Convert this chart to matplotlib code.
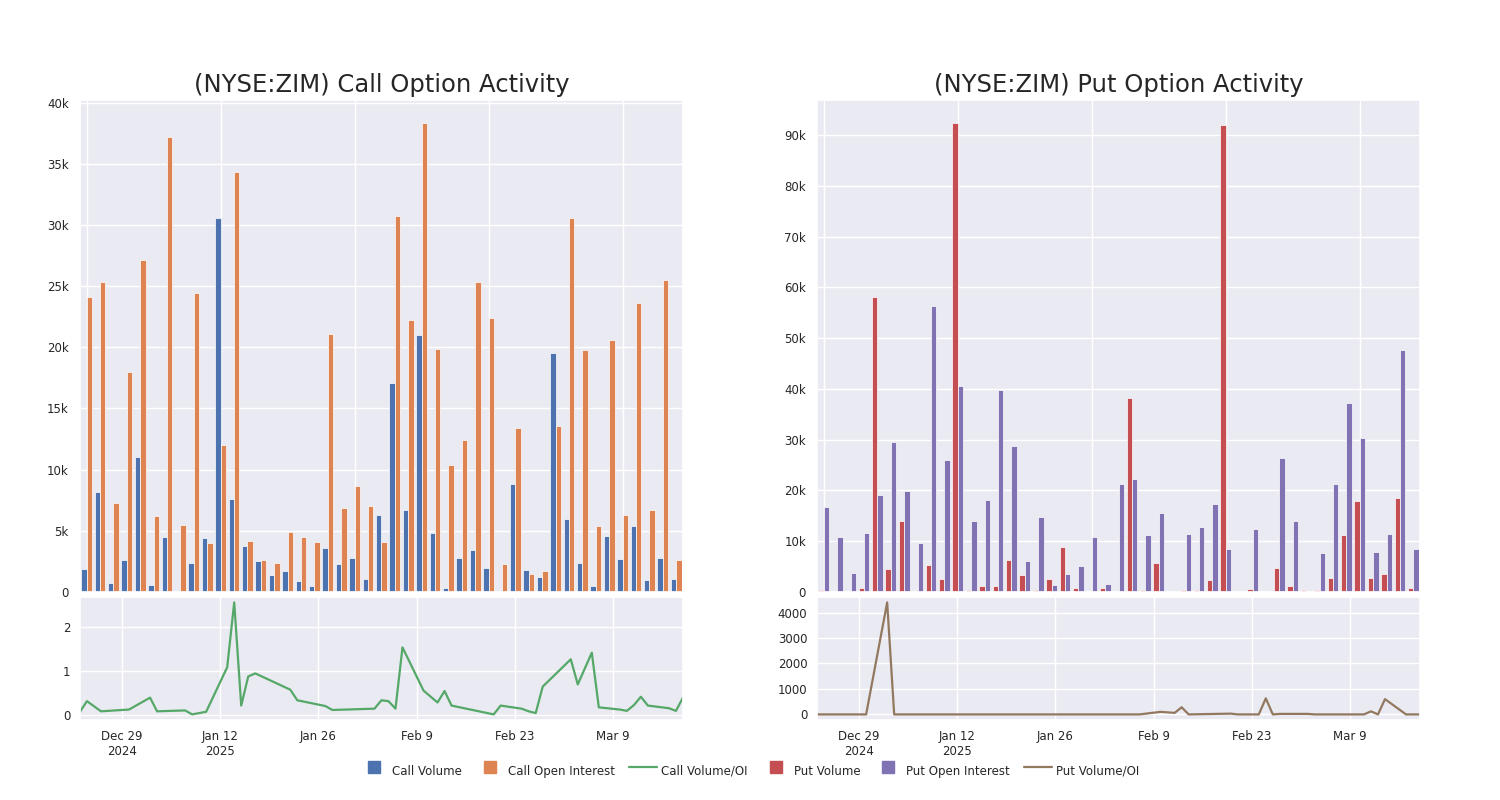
import matplotlib
matplotlib.use("Agg")
import matplotlib.pyplot as plt
from matplotlib.lines import Line2D
from matplotlib.ticker import FuncFormatter
import seaborn as sns
import pandas as pd
import numpy as np

sns.set_theme(style="darkgrid")

dates = pd.to_datetime([
    "2024-12-23", "2024-12-24", "2024-12-26", "2024-12-30", "2025-01-02", "2025-01-03",
    "2025-01-07", "2025-01-08", "2025-01-10", "2025-01-13", "2025-01-14", "2025-01-15",
    "2025-01-16", "2025-01-17", "2025-01-22", "2025-01-23", "2025-01-27", "2025-01-28",
    "2025-02-03", "2025-02-04", "2025-02-05", "2025-02-06", "2025-02-07", "2025-02-10",
    "2025-02-12", "2025-02-13", "2025-02-14", "2025-02-20", "2025-02-21", "2025-02-24",
    "2025-02-25", "2025-02-26", "2025-02-27", "2025-03-03", "2025-03-04", "2025-03-06",
    "2025-03-07", "2025-03-10", "2025-03-11", "2025-03-12", "2025-03-13", "2025-03-14",
    "2025-03-17", "2025-03-18", "2025-03-19",
])

call_vol = [1900, 8200, 700, 2600, 11000, 600, 4500, 100, 2400, 4400, 30600, 7600,
            3800, 2500, 1400, 1700, 900, 500, 3600, 2300, 2800, 1100, 6300, 17100,
            6700, 21000, 4800, 300, 2800, 3400, 2000, 100, 8800, 1800, 1200, 19500,
            6000, 2400, 500, 4600, 2700, 5400, 1000, 2800, 1100]
call_oi = [24100, 25300, 7300, 18000, 27100, 6200, 37200, 5500, 24400, 4000, 12000, 34300,
           4200, 2600, 2400, 4900, 4500, 4100, 21100, 6900, 8700, 7000, 4100, 30700,
           22200, 38300, 19900, 10400, 12400, 25300, 22400, 2300, 13400, 1500, 1700, 13600,
           30600, 19800, 5400, 20600, 6300, 23600, 6700, 25500, 2600]
call_ratio = [0.08, 0.32, 0.09, 0.13, 0.40, 0.09, 0.11, 0.02, 0.08, 1.09, 2.56, 0.22,
              0.88, 0.95, 0.58, 0.34, 0.21, 0.12, 0.15, 0.34, 0.32, 0.15, 1.54, 0.56,
              0.29, 0.55, 0.22, 0.02, 0.22, 0.15, 0.09, 0.05, 0.65, 1.27, 0.70, 1.42,
              0.18, 0.13, 0.10, 0.23, 0.42, 0.22, 0.16, 0.10, 0.40]

put_vol = [400, 100, 100, 800, 58100, 4600, 13900, 0, 5300, 2500, 92300, 300,
           1200, 1100, 6300, 3400, 300, 2600, 8900, 800, 50, 700, 100, 38200,
           400, 5700, 50, 400, 400, 2400, 92000, 50, 500, 50, 4800, 1100,
           300, 300, 2700, 11200, 17900, 2800, 3600, 18600, 700]
put_oi = [16800, 10800, 3800, 11700, 19100, 29600, 19900, 9600, 56400, 26100, 40600, 13900,
          18200, 39700, 28800, 6100, 14800, 1300, 3600, 5100, 10800, 1500, 21300, 22300,
          11200, 15600, 50, 11400, 12900, 17400, 8400, 100, 12500, 0, 26400, 14000,
          200, 7700, 21200, 37300, 30400, 7900, 11400, 47600, 8400]
put_ratio = [0, 0, 0, 0, 4400, 0, 0, 0, 0, 0, 0, 0,
             0, 0, 0, 0, 0, 0, 0, 0, 0, 0, 0, 100,
             60, 280, 0, 30, 0, 0, 630, 0, 20, 20, 0, 0,
             0, 0, 0, 120, 0, 600, 0, 0, 0]

date_ticks = pd.date_range("2024-12-29", periods=6, freq="14D")
tick_labels = ["Dec 29\n2024", "Jan 12\n2025", "Jan 26", "Feb 9", "Feb 23", "Mar 9"]

c_blue, c_orange, c_green = "#4C72B0", "#DD8452", "#55A868"
c_red, c_purple, c_brown = "#C44E52", "#8172B3", "#937860"

fig = plt.figure(figsize=(15, 8), dpi=100)

def kfmt(v, pos):
    return "0" if v == 0 else f"{int(round(v / 1000))}k"

def panel(left, vol, oi, ratio, cv, co, cl, title, ystep, rticks):
    axb = fig.add_axes([left, 0.26, 0.402, 0.615])
    axl = fig.add_axes([left, 0.10, 0.402, 0.154])
    x = np.arange(len(vol))
    axb.bar(x - 0.2, vol, width=0.4, color=cv, edgecolor="white", linewidth=0.5)
    axb.bar(x + 0.2, oi, width=0.4, color=co, edgecolor="white", linewidth=0.5)
    axb.set_xlim(-0.5, len(vol) - 0.5)
    axb.set_ylim(0, max(max(vol), max(oi)) * 1.05)
    axb.set_xticks(np.arange(0, len(vol), 10))
    axb.set_xticklabels([])
    axb.tick_params(axis="x", length=0)
    axb.set_yticks(np.arange(0, axb.get_ylim()[1], ystep))
    axb.yaxis.set_major_formatter(FuncFormatter(kfmt))
    axb.tick_params(axis="y", labelsize=8.5, pad=2)
    axb.set_title(title, fontsize=17.5, pad=6)

    axl.plot(dates, ratio, color=cl, linewidth=1.6)
    axl.set_xlim(dates[0], dates[-1])
    axl.set_xticks(date_ticks)
    axl.set_xticklabels(tick_labels)
    axl.set_yticks(rticks)
    axl.tick_params(labelsize=8.5, pad=1)
    return axb, axl

panel(0.0533, call_vol, call_oi, call_ratio, c_blue, c_orange, c_green,
      "(NYSE:ZIM) Call Option Activity", 5000, [0, 1, 2])
panel(0.5447, put_vol, put_oi, put_ratio, c_red, c_purple, c_brown,
      "(NYSE:ZIM) Put Option Activity", 10000, [0, 1000, 2000, 3000, 4000])

handles = [
    Line2D([], [], marker="s", ls="", color=c_blue, markersize=9),
    Line2D([], [], marker="s", ls="", color=c_orange, markersize=9),
    Line2D([], [], color=c_green, lw=1.6),
    Line2D([], [], marker="s", ls="", color=c_red, markersize=9),
    Line2D([], [], marker="s", ls="", color=c_purple, markersize=9),
    Line2D([], [], color=c_brown, lw=1.6),
]
labels = ["Call Volume", "Call Open Interest", "Call Volume/OI",
          "Put Volume", "Put Open Interest", "Put Volume/OI"]
leg = fig.legend(handles, labels, loc="center", bbox_to_anchor=(0.5, 0.04), ncol=6,
                 frameon=False, fontsize=8.5, handlelength=2.3, handletextpad=0.4,
                 columnspacing=1.2)
for t in leg.get_texts():
    t.set_va("center")

fig.savefig("out.png", dpi=100)
